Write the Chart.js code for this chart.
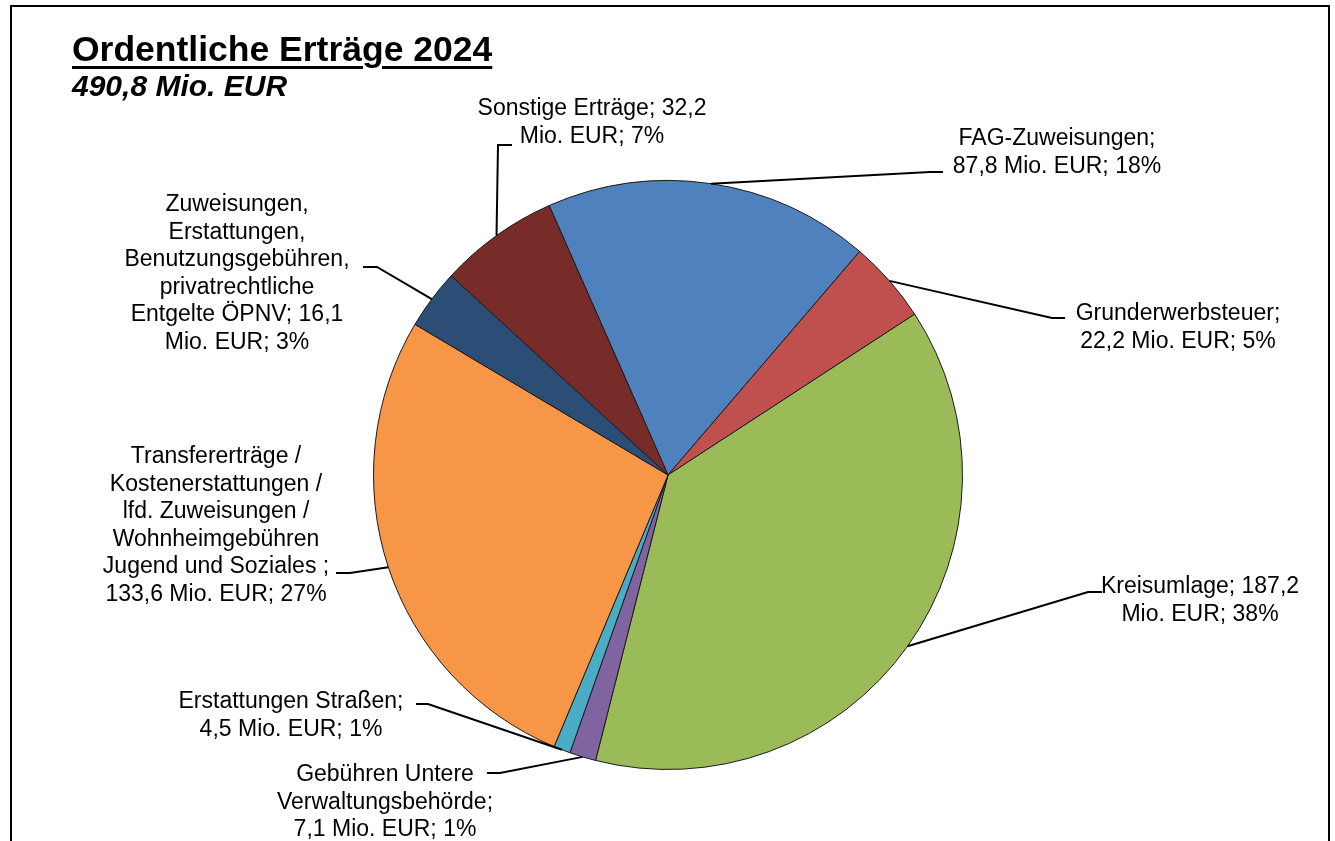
<!DOCTYPE html>
<html>
<head>
<meta charset="utf-8">
<script src="https://cdn.jsdelivr.net/npm/chart.js@4.4.1/dist/chart.umd.min.js"></script>
<style>
html, body { margin: 0; padding: 0; background: #fff; overflow: hidden; }
body { width: 1335px; height: 841px; position: relative; font-family: "Liberation Sans", Arial, sans-serif; }
#frame { position: absolute; left: 10px; top: 5px; width: 1316px; height: 900px; border: 2px solid #000; }
#title { position: absolute; left: 72px; top: 32px; font-size: 35.5px; line-height: 35px; font-weight: bold;
  text-decoration: underline; text-decoration-thickness: 3px; text-underline-offset: 5px; color: #000; white-space: nowrap; }
#subtitle { position: absolute; left: 72px; top: 71px; font-size: 30px; line-height: 30px; font-weight: bold; font-style: italic; color: #000; white-space: nowrap; }
canvas { position: absolute; left: 0; top: 0; }
</style>
</head>
<body>
<div id="frame"></div>
<canvas id="pie" width="1335" height="841"></canvas>
<div id="title">Ordentliche Erträge 2024</div>
<div id="subtitle">490,8 Mio. EUR</div>
<script>
const categories = [
  'FAG-Zuweisungen',
  'Grunderwerbsteuer',
  'Kreisumlage',
  'Gebühren Untere Verwaltungsbehörde',
  'Erstattungen Straßen',
  'Transfererträge / Kostenerstattungen / lfd. Zuweisungen / Wohnheimgebühren Jugend und Soziales ',
  'Zuweisungen, Erstattungen, Benutzungsgebühren, privatrechtliche Entgelte ÖPNV',
  'Sonstige Erträge'
];
const values = [87.8, 22.2, 187.2, 7.1, 4.5, 133.6, 16.1, 32.2];
const colors = ['#4F81BD', '#C0504D', '#9BBB59', '#8064A2', '#4BACC6', '#F79646', '#2C4D75', '#772C2A'];

// label boxes: centre x, first line centre y, wrap width, leader elbow and leader end
const labelLayout = [
  { cx: 1057, y: 137, wrap: 215, elbow: [930, 172], end: [943, 172] },
  { cx: 1178, y: 312, wrap: 215, elbow: [1052, 318], end: [1065, 318] },
  { cx: 1200, y: 585, wrap: 215, elbow: [1088, 592], end: [1102, 592] },
  { cx: 385, y: 773, wrap: 225, elbow: [500, 773], end: [487, 773] },
  { cx: 291, y: 700, wrap: 240, elbow: [428, 704], end: [416, 704] },
  { cx: 216, y: 455, wrap: 235, elbow: [350, 573], end: [336, 573] },
  { cx: 237, y: 203, wrap: 241, elbow: [377, 267], end: [363, 267] },
  { cx: 592, y: 107, wrap: 250, elbow: [498, 145], end: [512, 145] }
];

const total = values.reduce((a, b) => a + b, 0);
const fmt = v => v.toFixed(1).replace('.', ',');
const labelText = categories.map((c, i) => c + '; ' + fmt(values[i]) + ' Mio. EUR; ' + Math.round(values[i] / total * 100) + '%');

function wrapText(ctx, text, maxW) {
  const words = text.split(' ');
  const lines = [];
  let cur = '';
  words.forEach(w => {
    const test = cur ? cur + ' ' + w : w;
    if (cur && ctx.measureText(test).width > maxW) {
      lines.push(cur);
      cur = w;
    } else {
      cur = test;
    }
  });
  if (cur) lines.push(cur);
  return lines;
}

const leaderLabels = {
  id: 'leaderLabels',
  afterDatasetsDraw(chart) {
    const ctx = chart.ctx;
    const meta = chart.getDatasetMeta(0);
    ctx.save();
    ctx.font = '23px "Liberation Sans", Arial, sans-serif';
    ctx.fillStyle = '#000';
    ctx.strokeStyle = '#000';
    ctx.lineWidth = 2;
    ctx.textAlign = 'center';
    ctx.textBaseline = 'alphabetic';
    meta.data.forEach((arc, i) => {
      const p = arc.getProps(['x', 'y', 'startAngle', 'endAngle', 'outerRadius'], true);
      const mid = (p.startAngle + p.endAngle) / 2;
      const lay = labelLayout[i];
      ctx.beginPath();
      ctx.moveTo(p.x + Math.cos(mid) * p.outerRadius, p.y + Math.sin(mid) * p.outerRadius);
      ctx.lineTo(lay.elbow[0], lay.elbow[1]);
      ctx.lineTo(lay.end[0], lay.end[1]);
      ctx.stroke();
      const lines = wrapText(ctx, labelText[i], lay.wrap);
      lines.forEach((ln, k) => {
        ctx.fillText(ln, lay.cx, lay.y + k * 27.5 + 8);
      });
    });
    ctx.restore();
  }
};

new Chart(document.getElementById('pie'), {
  type: 'pie',
  data: {
    labels: categories,
    datasets: [{
      data: values,
      backgroundColor: colors,
      borderColor: '#1a1a1a',
      borderWidth: 1
    }]
  },
  options: {
    responsive: false,
    animation: false,
    rotation: -23.8,
    layout: { padding: { left: 373, right: 372, top: 180, bottom: 71 } },
    plugins: {
      legend: { display: false },
      tooltip: { enabled: false },
      title: { display: false }
    }
  },
  plugins: [leaderLabels]
});
</script>
</body>
</html>
